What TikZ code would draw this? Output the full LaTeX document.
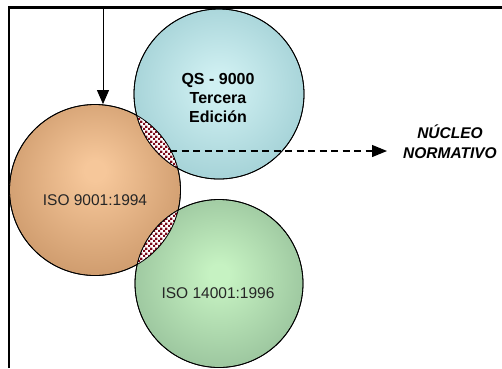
\documentclass[tikz,border=0pt]{standalone}
\usepackage{fontspec}
\setmainfont{Liberation Sans}
\usetikzlibrary{arrows.meta,patterns}

% ball colours
\definecolor{brownin}{HTML}{F6C79A}
\definecolor{brownmid}{HTML}{CF9C6E}
\definecolor{brownout}{HTML}{A87C52}
\definecolor{tealin}{HTML}{D0F0F2}
\definecolor{tealmid}{HTML}{A3D1D6}
\definecolor{tealout}{HTML}{82B6BC}
\definecolor{greenin}{HTML}{C6F2C2}
\definecolor{greenmid}{HTML}{9AC49D}
\definecolor{greenout}{HTML}{78A27E}
\definecolor{checkred}{HTML}{7E0C1C}
\definecolor{txtgray}{HTML}{262626}

% radial shadings with a slightly raised highlight
\pgfdeclareradialshading{brownball}{\pgfpoint{0bp}{6bp}}%
  {color(0bp)=(brownin); color(3bp)=(brownin); color(28bp)=(brownmid); color(50bp)=(brownout)}
\pgfdeclareradialshading{tealball}{\pgfpoint{0bp}{3bp}}%
  {color(0bp)=(tealin); color(3bp)=(tealin); color(28bp)=(tealmid); color(50bp)=(tealout)}
\pgfdeclareradialshading{greenball}{\pgfpoint{0bp}{3bp}}%
  {color(0bp)=(greenin); color(3bp)=(greenin); color(28bp)=(greenmid); color(50bp)=(greenout)}

% fine checkerboard for the overlap areas
\pgfdeclarepatternformonly{checker}{\pgfpointorigin}{\pgfpoint{4.6pt}{4.6pt}}{\pgfpoint{4.6pt}{4.6pt}}{%
  \pgfpathrectangle{\pgfpointorigin}{\pgfpoint{2.3pt}{2.3pt}}%
  \pgfpathrectangle{\pgfpoint{2.3pt}{2.3pt}}{\pgfpoint{2.3pt}{2.3pt}}%
  \pgfusepath{fill}}

\tikzset{
  ball/.style={circle, inner sep=0pt, minimum size=#1, draw=black, line width=0.8pt},
  balltext/.style={font=\fontsize{15.5}{19}\selectfont, text=txtgray, align=center},
  overlap/.style={pattern=checker, pattern color=checkred},
  frameline/.style={line width=2.2pt},
  solidarrow/.style={line width=0.9pt, -{Triangle[length=14pt,width=12pt]}},
  dasharrow/.style={line width=1.2pt, dash pattern=on 7pt off 4.5pt, -{Triangle[length=15pt,width=12pt]}},
}

\begin{document}
\begin{tikzpicture}[x=1pt,y=-1pt]
\useasboundingbox (0,0) rectangle (502,368);

% centres of the three standards
\coordinate (c1) at (95,190);
\coordinate (c2) at (219,94);
\coordinate (c3) at (219,283.5);

% frame
\draw[frameline] (9,368) -- (9,7.5) -- (502,7.5);

% the three circles
\node[ball=171pt, shading=brownball] (iso9001) at (c1) {};
\node[ball=170pt, shading=tealball]  (qs9000)  at (c2) {};
\node[ball=168pt, shading=greenball] (iso14001) at (c3) {};

% overlaps
\begin{scope}
  \clip (c1) circle (85.5);
  \fill[white] (c2) circle (85);
  \fill[overlap] (c2) circle (85);
  \fill[white] (c3) circle (84);
  \fill[overlap] (c3) circle (84);
\end{scope}

% outlines on top
\draw[line width=0.8pt] (c1) circle (85.5);
\draw[line width=0.8pt] (c2) circle (85);
\draw[line width=0.8pt] (c3) circle (84);

% labels
\node[balltext, font=\fontsize{16}{19}\selectfont\bfseries, text=black] (qstext) at (218,98) {QS - 9000\\Tercera\\Edición};
\node[balltext] (t9001) at (95,200) {ISO 9001:1994};
\node[balltext] (t14001) at (218,293) {ISO 14001:1996};
\node[font=\fontsize{15.5}{20}\selectfont\bfseries\itshape, align=center, anchor=west, inner sep=0pt] (nucleo) at (403,142) {NÚCLEO\\NORMATIVO};

% connectors
\coordinate (topin) at (103,8.6);
\draw[solidarrow] (topin) -- (iso9001.north -| topin);
\coordinate (lens) at (170,151);
\draw[dasharrow, shorten >=16pt] (lens) -- (nucleo.west |- lens);
\end{tikzpicture}
\end{document}
